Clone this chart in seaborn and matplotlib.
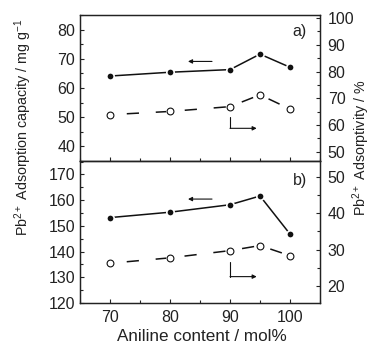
import matplotlib
matplotlib.use('Agg')
import matplotlib.pyplot as plt
import seaborn as sns
import pandas as pd
from matplotlib.ticker import MultipleLocator

# ---- data ----
aniline = [70, 80, 90, 95, 100]
capacity_a = [64.1, 65.4, 66.3, 71.6, 67.1]      # left axis, panel a
adsorptivity_a = [63.9, 65.1, 66.9, 71.3, 66.0]  # right axis, panel a
capacity_b = [153.2, 155.3, 158.2, 161.6, 146.8]  # left axis, panel b
adsorptivity_b = [26.2, 27.7, 29.7, 31.1, 28.3]   # right axis, panel b

xticks = [70, 80, 90, 100]
panel_labels = ['a)', 'b)']

df = pd.DataFrame({'x': aniline, 'cap_a': capacity_a, 'ads_a': adsorptivity_a,
                   'cap_b': capacity_b, 'ads_b': adsorptivity_b})

sns.set_theme(style='ticks')
plt.rcParams['font.family'] = ['Liberation Sans', 'DejaVu Sans']
plt.rcParams['mathtext.fontset'] = 'custom'
plt.rcParams['mathtext.rm'] = 'Liberation Sans'
plt.rcParams['mathtext.it'] = 'Liberation Sans:italic'
plt.rcParams['axes.edgecolor'] = '#222222'
plt.rcParams['axes.linewidth'] = 0.9

W, H = 374, 346
fig = plt.figure(figsize=(W / 100, H / 100), dpi=100)
L, R = 80 / W, 320 / W
ax_a = fig.add_axes([L, 1 - 161 / H, R - L, (161 - 15) / H])
ax_b = fig.add_axes([L, 1 - 303 / H, R - L, (303 - 161) / H], sharex=ax_a)
axr_a = ax_a.twinx()
axr_b = ax_b.twinx()

K = '#111111'
dash = (8, (8, 11))


def draw(ax_left, ax_right, ycap, yads):
    sns.lineplot(data=df, x='x', y=ycap, ax=ax_left, color=K, lw=1.1, zorder=2)
    sns.scatterplot(data=df, x='x', y=ycap, ax=ax_left, color='white', s=42,
                    linewidth=0, zorder=3)
    sns.scatterplot(data=df, x='x', y=ycap, ax=ax_left, color=K, s=17,
                    linewidth=0, zorder=4)
    sns.lineplot(data=df, x='x', y=yads, ax=ax_right, color=K, lw=1.1,
                 linestyle=dash, zorder=2)
    sns.scatterplot(data=df, x='x', y=yads, ax=ax_right, color='white', s=40,
                    linewidth=0, zorder=3)
    sns.scatterplot(data=df, x='x', y=yads, ax=ax_right, facecolor='white',
                    edgecolor=K, s=24, linewidth=0.8, zorder=4)


draw(ax_a, axr_a, 'cap_a', 'ads_a')
draw(ax_b, axr_b, 'cap_b', 'ads_b')

ax_a.set_xlim(65, 105)
ax_a.set_ylim(35, 85)
axr_a.set_ylim(46.6, 101.1)
ax_b.set_ylim(120, 175.2)
axr_b.set_ylim(15.2, 54.5)

for a in (ax_a, ax_b, axr_a, axr_b):
    a.set_xlabel('')
    a.set_ylabel('')
    a.yaxis.set_major_locator(MultipleLocator(10))
    a.yaxis.set_minor_locator(MultipleLocator(5))
    a.tick_params(which='both', direction='in', width=0.8, colors='#222222',
                  labelsize=11.5, labelcolor='#222222')
    a.tick_params(which='major', length=3.2)
    a.tick_params(which='minor', length=1.9)
    for s in a.spines.values():
        s.set_visible(True)
        s.set_linewidth(0.9)

ax_a.set_xticks(xticks)
ax_a.xaxis.set_minor_locator(MultipleLocator(5))
for a in (ax_a, ax_b):
    a.tick_params(axis='y', which='both', left=True, right=False, pad=3.5)
    a.tick_params(axis='x', which='both', bottom=True, top=False)
for a in (axr_a, axr_b):
    a.tick_params(axis='y', which='both', right=True, left=False, pad=5.5,
                  labelright=True, labelleft=False)
ax_a.tick_params(axis='x', labelbottom=False)
ax_b.tick_params(axis='x', labelbottom=True, pad=5)
axr_a.tick_params(axis='x', which='both', bottom=False, top=False, labelbottom=False)
axr_b.tick_params(axis='x', which='both', bottom=False, top=False, labelbottom=False)

arrow = dict(arrowstyle='-|>', color=K, lw=0.8, mutation_scale=6,
             shrinkA=0, shrinkB=0)

# panel a arrows
ax_a.annotate('', xy=(83, 69.1), xytext=(87, 69.1), arrowprops=arrow)
axr_a.plot([90, 90], [63.2, 58.8], color=K, lw=0.8)
axr_a.annotate('', xy=(94.45, 58.8), xytext=(90, 58.8), arrowprops=arrow)
# panel b arrows
ax_b.annotate('', xy=(83, 160.4), xytext=(87, 160.4), arrowprops=arrow)
axr_b.plot([90, 90], [26.5, 22.5], color=K, lw=0.8)
axr_b.annotate('', xy=(94.45, 22.5), xytext=(90, 22.5), arrowprops=arrow)

ax_a.text(0.946, 0.886, panel_labels[0], transform=ax_a.transAxes,
          ha='right', va='center', fontsize=11.5, color='#222222')
ax_b.text(0.946, 0.866, panel_labels[1], transform=ax_b.transAxes,
          ha='right', va='center', fontsize=11.5, color='#222222')

fig.text(0.062, 0.632, r'Pb$^{\mathregular{2+}}$ Adsorption capacity / mg g$^{\mathregular{-1}}$',
         rotation=90, ha='center', va='center', fontsize=10.3, color='#222222')
fig.text(0.966, 0.574, r'Pb$^{\mathregular{2+}}$ Adsorptivity / %',
         rotation=90, ha='center', va='center', fontsize=10.3, color='#222222')
fig.text(0.539, 0.027, 'Aniline content / mol%', ha='center', va='center',
         fontsize=12.3, color='#222222')

fig.savefig('out.png', dpi=100)
